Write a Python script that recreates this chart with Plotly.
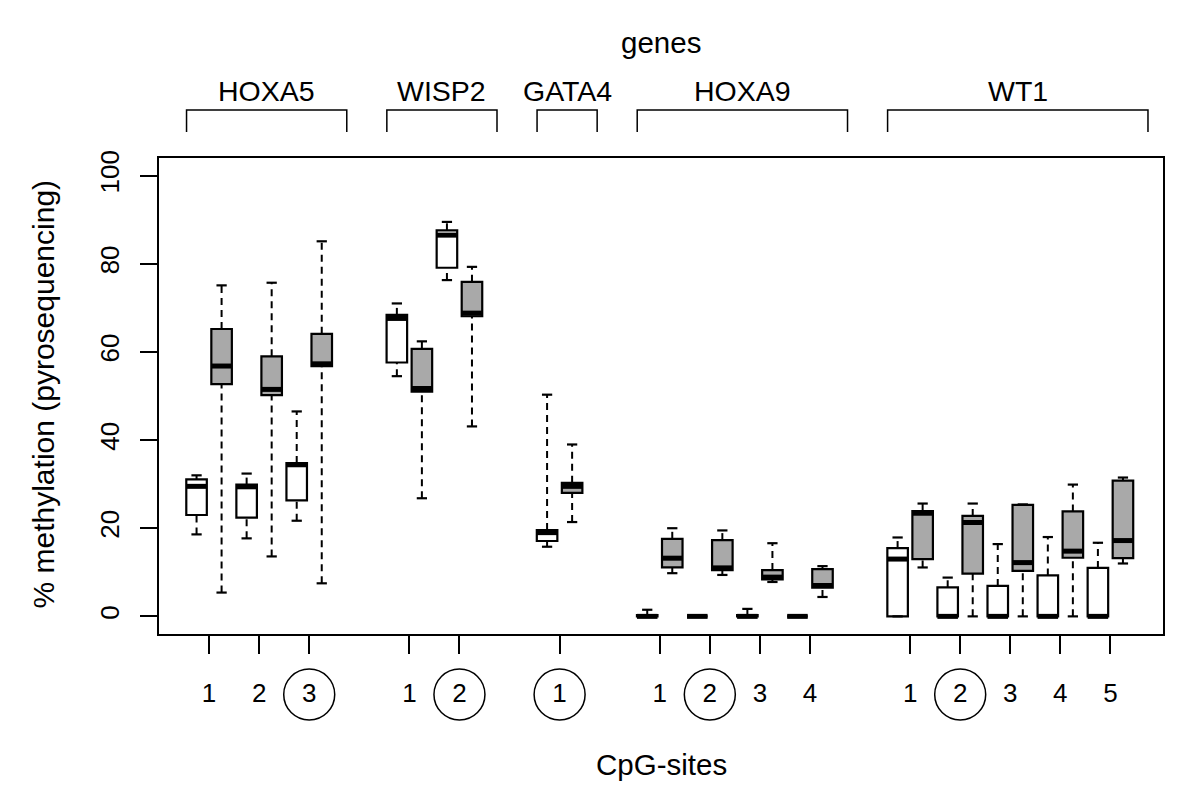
import plotly.graph_objects as go

# ---------------- data ----------------
genes = ["HOXA5", "WISP2", "GATA4", "HOXA9", "WT1"]
sites_per_gene = [3, 2, 1, 4, 5]
circled_site = [3, 2, 1, 2, 2]

# white boxes (group 1), one value per CpG site (15 sites)
white_lo = [18.6, 17.7, 21.7, 54.5, 76.3, 15.8, 0.0, 0.0, 0.0, 0.0, 0.0, 0.0, 0.0, 0.0, 0.0]
white_q1 = [23.0, 22.4, 26.3, 57.6, 79.1, 17.1, 0.0, 0.0, 0.0, 0.0, 0.0, 0.0, 0.0, 0.0, 0.0]
white_med = [29.5, 29.4, 34.4, 67.6, 86.5, 19.0, 0.0, 0.0, 0.0, 0.0, 13.0, 0.0, 0.0, 0.0, 0.0]
white_q3 = [31.1, 29.9, 34.8, 68.4, 87.6, 19.6, 0.3, 0.0, 0.3, 0.0, 15.5, 6.6, 6.9, 9.3, 11.0]
white_hi = [32.0, 32.4, 46.5, 71.0, 89.5, 50.3, 1.5, 0.0, 1.7, 0.0, 17.9, 8.8, 16.4, 18.0, 16.7]

# grey boxes (group 2)
grey_lo = [5.4, 13.6, 7.5, 26.8, 43.1, 21.4, 9.8, 9.4, 7.8, 4.4, 11.1, 0.0, 0.0, 0.0, 12.0]
grey_q1 = [52.7, 50.2, 56.8, 51.0, 68.1, 28.0, 11.1, 10.5, 8.4, 6.5, 13.0, 9.7, 10.3, 13.3, 13.2]
grey_med = [56.8, 51.5, 57.3, 51.7, 68.8, 29.5, 13.2, 11.0, 8.9, 7.0, 23.4, 21.3, 12.2, 14.8, 17.2]
grey_q3 = [65.2, 59.0, 64.1, 60.7, 75.9, 30.3, 17.6, 17.3, 10.5, 10.7, 23.9, 22.8, 25.3, 23.8, 30.8]
grey_hi = [75.1, 75.7, 85.1, 62.4, 79.3, 39.0, 20.0, 19.5, 16.6, 11.4, 25.6, 25.6, 25.4, 29.9, 31.5]

y_ticks = [0, 20, 40, 60, 80, 100]

# ---------------- positions ----------------
positions, site_labels, gene_first, gene_last, circled_pos = [], [], [], [], []
p = 1
for g, n in enumerate(sites_per_gene):
    gene_first.append(p)
    for k in range(n):
        positions.append(p + k)
        site_labels.append(str(k + 1))
        if k + 1 == circled_site[g]:
            circled_pos.append(p + k)
    gene_last.append(p + n - 1)
    p += n + 1

OFF = 0.25
BW = 0.41
STAPLE = BW / 4

xw = [q - OFF for q in positions]
xg = [q + OFF for q in positions]


def whiskers(xs, lo, q1, q3, hi):
    X, Y = [], []
    for x, a, b, c, d in zip(xs, lo, q1, q3, hi):
        if d > c:
            X += [x, x, None]
            Y += [c, d, None]
        if b > a:
            X += [x, x, None]
            Y += [a, b, None]
    return X, Y


def staples(xs, lo, hi):
    X, Y = [], []
    for x, a, d in zip(xs, lo, hi):
        X += [x - STAPLE, x + STAPLE, None, x - STAPLE, x + STAPLE, None]
        Y += [d, d, None, a, a, None]
    return X, Y


def medians(xs, med):
    X, Y = [], []
    for x, m in zip(xs, med):
        X += [x - BW / 2, x + BW / 2, None]
        Y += [m, m, None]
    return X, Y


fig = go.Figure()

for xs, lo, q1, med, q3, hi, fill in [
    (xw, white_lo, white_q1, white_med, white_q3, white_hi, "white"),
    (xg, grey_lo, grey_q1, grey_med, grey_q3, grey_hi, "#a9a9a9"),
]:
    fig.add_trace(go.Box(
        x=xs, q1=q1, median=med, q3=q3, lowerfence=q1, upperfence=q3,
        width=BW, fillcolor=fill, line=dict(color="black", width=2.2),
        whiskerwidth=0, boxpoints=False, hoverinfo="skip", showlegend=False,
    ))

for xs, lo, q1, med, q3, hi in [
    (xw, white_lo, white_q1, white_med, white_q3, white_hi),
    (xg, grey_lo, grey_q1, grey_med, grey_q3, grey_hi),
]:
    X, Y = whiskers(xs, lo, q1, q3, hi)
    fig.add_trace(go.Scatter(x=X, y=Y, mode="lines",
                             line=dict(color="black", width=2, dash="7px,5px"),
                             hoverinfo="skip", showlegend=False))
    X, Y = staples(xs, lo, hi)
    fig.add_trace(go.Scatter(x=X, y=Y, mode="lines",
                             line=dict(color="black", width=2.2),
                             hoverinfo="skip", showlegend=False))
    X, Y = medians(xs, med)
    fig.add_trace(go.Scatter(x=X, y=Y, mode="lines",
                             line=dict(color="black", width=5),
                             hoverinfo="skip", showlegend=False))

# ---------------- layout geometry ----------------
# the page body has an 8px default margin; compensate so the plot area
# lands at x 159..1163, y 158..634 of the window
OFFSET = 8
W, H = 1200 - OFFSET, 794 - OFFSET
L, R, T, B = 159 - OFFSET, 37, 158 - OFFSET, 160
plot_h = H - T - B
plot_w = W - L - R
PLOT_BOTTOM = 634
PLOT_LEFT = 159


def py(pix):  # window pixel y -> paper y
    return (PLOT_BOTTOM - pix) / plot_h


def px(pix):  # window pixel x -> paper x
    return (pix - PLOT_LEFT) / plot_w


shapes = []
annotations = []
y_top = py(110)
y_bot = py(132)
for g, name in enumerate(genes):
    x0 = gene_first[g] - 0.45
    x1 = gene_last[g] + 0.75
    shapes.append(dict(type="path", xref="x", yref="paper",
                       path=f"M {x0},{y_bot} L {x0},{y_top} L {x1},{y_top} L {x1},{y_bot}",
                       line=dict(color="black", width=1.5)))
    annotations.append(dict(x=(x0 + x1) / 2, y=py(91), xref="x", yref="paper",
                            text=name, showarrow=False, xanchor="center", yanchor="middle",
                            font=dict(size=28.5)))

for cp in circled_pos:
    shapes.append(dict(type="circle", xref="x", yref="paper",
                       xsizemode="pixel", ysizemode="pixel",
                       xanchor=cp, yanchor=py(694.5),
                       x0=-25.5, x1=25.5, y0=-25.5, y1=25.5,
                       line=dict(color="black", width=1.5)))

annotations.append(dict(x=0.5, y=py(43), xref="paper", yref="paper", text="genes",
                        showarrow=False, xanchor="center", yanchor="middle", font=dict(size=29.5)))
annotations.append(dict(x=0.5, y=py(764), xref="paper", yref="paper", text="CpG-sites",
                        showarrow=False, xanchor="center", yanchor="middle", font=dict(size=29.5)))
annotations.append(dict(x=px(42.5), y=py(394), xref="paper", yref="paper",
                        text="% methylation (pyrosequencing)", textangle=-90,
                        showarrow=False, xanchor="center", yanchor="middle", font=dict(size=30)))

fig.update_layout(
    width=W, height=H,
    margin=dict(l=L, r=R, t=T, b=B),
    paper_bgcolor="white", plot_bgcolor="white",
    boxmode="overlay", showlegend=False,
    font=dict(family="Liberation Sans, Arial, sans-serif", color="black", size=26),
    shapes=shapes, annotations=annotations,
)
fig.update_xaxes(range=[0.0, 20.05], tickmode="array", tickvals=positions, ticktext=site_labels,
                 ticks="outside", ticklen=18, tickwidth=1.5, tickcolor="black",
                 showline=True, linewidth=2, linecolor="black", mirror=True,
                 showgrid=False, zeroline=False, tickfont=dict(size=26),
                 ticklabelstandoff=17)
fig.update_yaxes(range=[-4, 104], tickmode="array", tickvals=y_ticks,
                 ticktext=[str(v) for v in y_ticks],
                 ticks="outside", ticklen=17, tickwidth=1.5, tickcolor="black",
                 tickangle=-90,
                 showline=True, linewidth=2, linecolor="black", mirror=True,
                 showgrid=False, zeroline=False, tickfont=dict(size=26),
                 ticklabelstandoff=11)

fig.write_html("out.html")
